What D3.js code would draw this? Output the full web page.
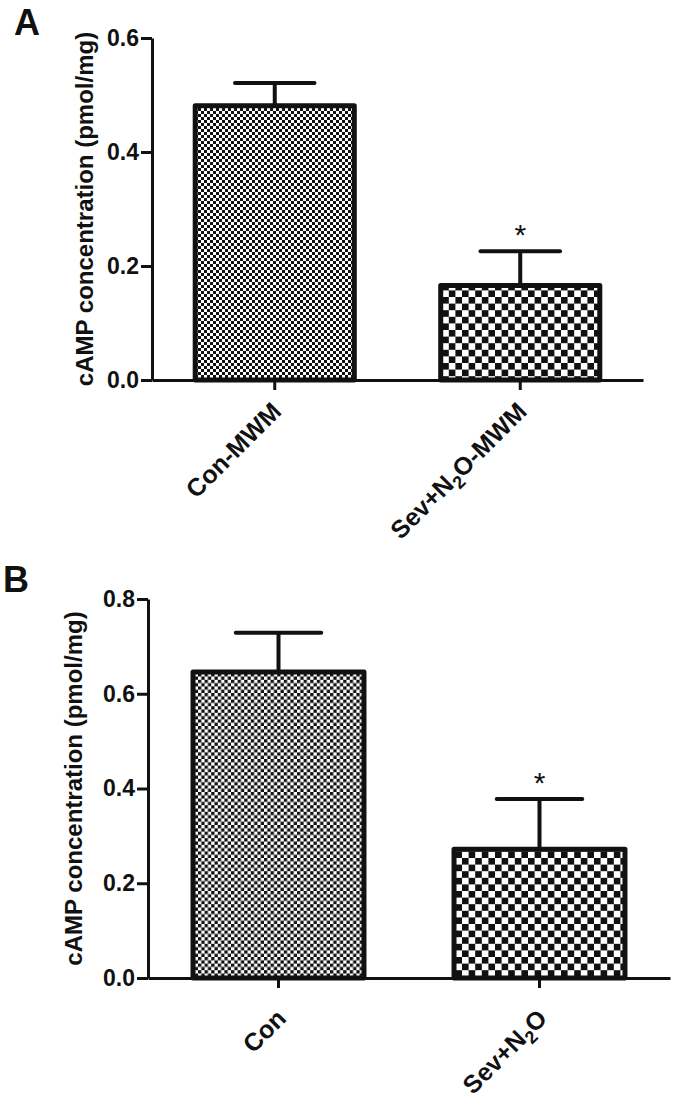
<!DOCTYPE html>
<html><head><meta charset="utf-8">
<script src="https://cdn.jsdelivr.net/npm/d3@7"></script>
<style>
body{margin:0;background:#fff}
text{font-family:"Liberation Sans",Arial,Helvetica,sans-serif;font-weight:bold;fill:#111}
</style>
</head><body>
<svg id="chart" width="678" height="1108"></svg>
<script>
// ---- data ----
const categoriesA = ["Con-MWM", "Sev+N2O-MWM"];
const meansA = [0.481, 0.166];
const semA = [0.040, 0.060];
const tickValuesA = [0.0, 0.2, 0.4, 0.6];
const tickLabelsA = ["0.0", "0.2", "0.4", "0.6"];

const categoriesB = ["Con", "Sev+N2O"];
const meansB = [0.646, 0.272];
const semB = [0.083, 0.106];
const tickValuesB = [0.0, 0.2, 0.4, 0.6, 0.8];
const tickLabelsB = ["0.0", "0.2", "0.4", "0.6", "0.8"];

const significant = [false, true];
const yTitle = "cAMP concentration (pmol/mg)";
const panelLetters = ["A", "B"];

// ---- layout ----
const svg = d3.select("#chart");
svg.append("rect").attr("width", 678).attr("height", 1108).attr("fill", "#fff");

const defs = svg.append("defs");
function checker(id, c) {
  const p = defs.append("pattern").attr("id", id).attr("patternUnits", "userSpaceOnUse")
    .attr("width", 2 * c).attr("height", 2 * c);
  p.append("rect").attr("width", 2 * c).attr("height", 2 * c).attr("fill", "#fff");
  p.append("rect").attr("width", c).attr("height", c).attr("fill", "#111");
  p.append("rect").attr("x", c).attr("y", c).attr("width", c).attr("height", c).attr("fill", "#111");
}
checker("fineA", 3);
checker("fineB", 3.3);
checker("coarse", 6.6);

function panel(cfg) {
  const g = svg.append("g");
  const y = d3.scaleLinear().domain([0, cfg.yMax]).range([cfg.y0, cfg.yTop]);
  const x = d3.scaleBand().domain(cfg.categories).range([cfg.x0, cfg.x1])
    .paddingInner(cfg.pad).paddingOuter(cfg.pad / 2);

  g.selectAll("rect.bar").data(cfg.categories).join("rect")
    .attr("class", "bar")
    .attr("x", d => x(d))
    .attr("width", x.bandwidth())
    .attr("y", (d, i) => y(cfg.means[i]))
    .attr("height", (d, i) => y(0) - y(cfg.means[i]))
    .attr("fill", (d, i) => `url(#${cfg.fills[i]})`)
    .attr("stroke", "#111").attr("stroke-width", 5).attr("stroke-linejoin", "round");

  const capW = x.bandwidth() * 0.5;
  cfg.categories.forEach((d, i) => {
    const cx = x(d) + x.bandwidth() / 2;
    const top = y(cfg.means[i] + cfg.sems[i]);
    g.append("line").attr("x1", cx).attr("x2", cx).attr("y1", y(cfg.means[i])).attr("y2", top)
      .attr("stroke", "#111").attr("stroke-width", 4);
    g.append("line").attr("x1", cx - capW / 2).attr("x2", cx + capW / 2).attr("y1", top).attr("y2", top)
      .attr("stroke", "#111").attr("stroke-width", 4).attr("stroke-linecap", "round");
    if (significant[i]) {
      g.append("text").attr("x", cx).attr("y", top - 6).attr("text-anchor", "middle")
        .style("font-weight", "normal").style("font-size", "30px").text("*");
    }
  });

  const ya = g.append("g").attr("transform", `translate(${cfg.x0},0)`)
    .call(d3.axisLeft(y).tickValues(cfg.tickValues).tickFormat((d, i) => cfg.tickLabels[i])
      .tickSize(11).tickPadding(2).tickSizeOuter(0));
  ya.select(".domain").attr("stroke", "#111").attr("stroke-width", 3);
  ya.selectAll(".tick line").attr("stroke", "#111").attr("stroke-width", 3);
  ya.selectAll(".tick text").style("font-size", "23px").style("font-family", null).attr("fill", "#111");

  const xa = g.append("g").attr("transform", `translate(0,${cfg.y0})`)
    .call(d3.axisBottom(x).tickSize(10).tickSizeOuter(0).tickFormat(""));
  xa.select(".domain").attr("stroke", "#111").attr("stroke-width", 3);
  xa.selectAll(".tick line").attr("stroke", "#111").attr("stroke-width", 3);
  xa.selectAll(".tick text").remove();

  cfg.categories.forEach(d => {
    const cx = x(d) + x.bandwidth() / 2;
    const t = g.append("text").attr("text-anchor", "end").style("font-size", cfg.labelSize + "px")
      .attr("transform", `translate(${cx + cfg.lblDx},${cfg.y0 + cfg.lblDy}) rotate(-45)`);
    const parts = d.split("N2O");
    if (parts.length === 2) {
      t.append("tspan").text(parts[0] + "N");
      t.append("tspan").attr("dy", 6).style("font-size", (cfg.labelSize * 0.72) + "px").text("2");
      t.append("tspan").attr("dy", -6).text("O" + parts[1]);
    } else t.text(d);
  });

  g.append("text").attr("text-anchor", "middle").style("font-size", "24px")
    .attr("transform", `translate(${cfg.titleX},${(cfg.y0 + cfg.yTop) / 2}) rotate(-90)`)
    .text(yTitle);

  g.append("text").attr("x", cfg.letterX).attr("y", cfg.letterY).style("font-size", "36px").text(cfg.letter);
}

panel({
  categories: categoriesA, means: meansA, sems: semA, tickValues: tickValuesA, tickLabels: tickLabelsA,
  yMax: 0.6, y0: 380, yTop: 38, x0: 152, x1: 643, pad: 0.352, fills: ["fineA", "coarse"],
  labelSize: 25, lblDx: 8, lblDy: 33, titleX: 93, letter: panelLetters[0], letterX: 14, letterY: 35
});
panel({
  categories: categoriesB, means: meansB, sems: semB, tickValues: tickValuesB, tickLabels: tickLabelsB,
  yMax: 0.8, y0: 978, yTop: 599, x0: 148, x1: 670, pad: 0.345, fills: ["fineB", "coarse"],
  labelSize: 25, lblDx: 9, lblDy: 42, titleX: 82, letter: panelLetters[1], letterX: 3, letterY: 592
});
</script>
</body></html>
